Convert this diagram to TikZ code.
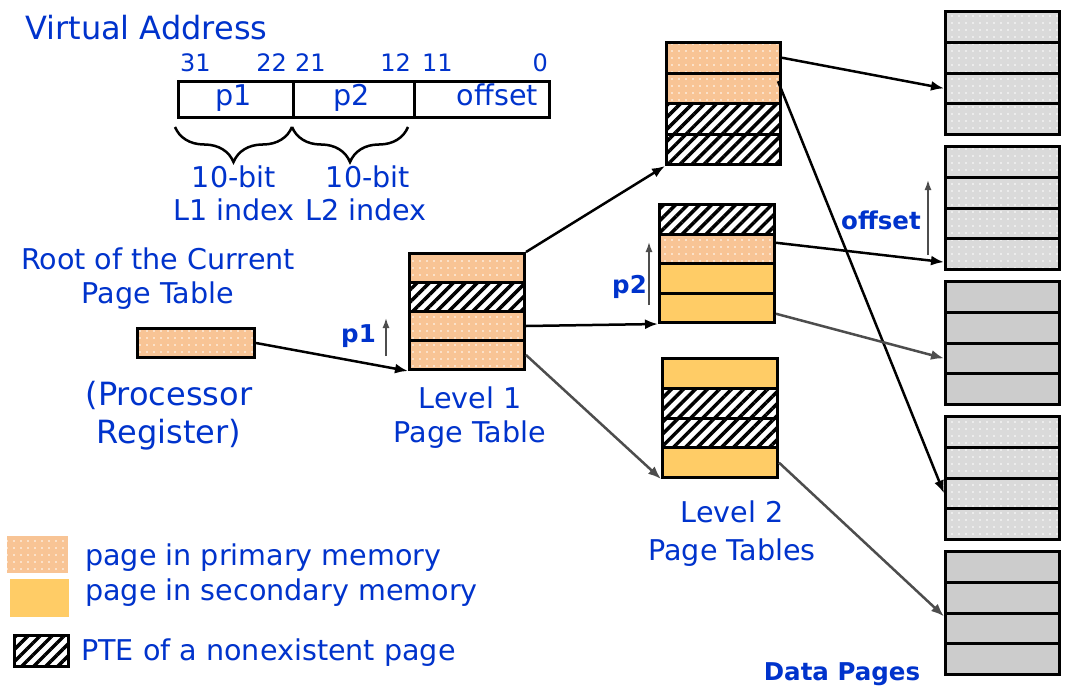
\documentclass[tikz,border=0pt]{standalone}
\usepackage{fontspec}
\setmainfont{DejaVu Sans}
\usetikzlibrary{arrows.meta, patterns.meta, decorations.pathreplacing, positioning}
\definecolor{vblue}{HTML}{0033CC}
\definecolor{pgprim}{HTML}{F8C495}
\definecolor{pgsec}{HTML}{FFCC66}
\definecolor{dgprim}{HTML}{DADADA}
\definecolor{dgsec}{HTML}{CCCCCC}
\definecolor{arrgrey}{HTML}{4D4D4D}

\begin{document}
\begin{tikzpicture}[x=1pt, y=-1pt,
        txt/.style={text=vblue, inner sep=0pt, font=\fontsize{28.6}{34}\selectfont},
        bigtxt/.style={txt, font=\fontsize{32}{38}\selectfont},
        numtxt/.style={txt, font=\fontsize{24}{28}\selectfont},
        boldtxt/.style={txt, font=\bfseries\fontsize{24.5}{29}\selectfont},
        cell/.style={draw, line width=3pt, inner sep=0pt, anchor=north west, minimum width=115pt},
        vacell/.style={draw, line width=2.5pt, inner sep=0pt, anchor=north west, minimum height=36pt},
        prim/.style={preaction={fill=pgprim}, pattern={Dots[radius=0.8pt,distance=7pt]}, pattern color=white},
        sec/.style={fill=pgsec},
        hatch/.style={preaction={fill=white}, pattern={Lines[angle=45,distance=8.5pt,line width=3.5pt]}, pattern color=black},
        dprim/.style={preaction={fill=dgprim}, pattern={Dots[radius=0.8pt,distance=7pt]}, pattern color=white},
        dsec/.style={fill=dgsec},
        brace/.style={decorate, decoration={brace, mirror, amplitude=35pt}, line width=2.5pt},
        conn/.style={-{Latex[length=13pt,width=10pt]}, line width=2.5pt},
        gconn/.style={conn, draw=arrgrey},
        idx/.style={-{Latex[length=10pt,width=7pt]}, line width=1.5pt, draw=arrgrey}]

    \path[use as bounding box, fill=white] (0,0) rectangle (1073,688);

    % virtual address
    \node[bigtxt, anchor=base west] (vatitle) at (25,39) {Virtual Address};
    \node[numtxt, anchor=base west] (b31) at (180,71) {31};
    \node[numtxt, anchor=base east] (b22) at (287,71) {22};
    \node[numtxt, anchor=base west] (b21) at (295,71) {21};
    \node[numtxt, anchor=base east] (b12) at (411,71) {12};
    \node[numtxt, anchor=base west] (b11) at (422,71) {11};
    \node[numtxt, anchor=base east] (b0) at (548,71) {0};

    \node[vacell, minimum width=115pt] (vap1) at (177,80) {};
    \node[vacell, minimum width=121pt] (vap2) at (292,80) {};
    \node[vacell, minimum width=135pt] (vaoff) at (413,80) {};
    \node[txt, anchor=base] at (234,105) {p1};
    \node[txt, anchor=base] at (352,105) {p2};
    \node[txt, anchor=base east] at (538,105) {offset};

    \draw[brace] (175,127) -- (292,127);
    \draw[brace] (292,127) -- (408,127);
    \node[txt, anchor=base] at (234,187) {10-bit};
    \node[txt, anchor=base] at (368,187) {10-bit};
    \node[txt, anchor=base west] at (173,220) {L1 index};
    \node[txt, anchor=base east] at (427,220) {L2 index};

    % root register
    \node[txt, anchor=base] at (158,269) {Root of the Current};
    \node[txt, anchor=base] at (158,303) {Page Table};
    \node[cell, prim, minimum width=117pt, minimum height=29pt] (regbox) at (136,327) {};
    \node[bigtxt, anchor=base] at (169,405) {(Processor};
    \node[bigtxt, anchor=base] at (169,443) {Register)};

    % level 1
    \foreach \k [count=\i] in {prim,hatch,prim,prim}
        \node[cell, \k, minimum height=29pt] (lvl1-\i) at (408,{252+29*(\i-1)}) {};
    \node[txt, anchor=base] at (470,408) {Level 1};
    \node[txt, anchor=base] at (470,442) {Page Table};

    % level 2
    \foreach \k [count=\i] in {prim,prim,hatch,hatch}
        \node[cell, \k, minimum width=114pt, minimum height=30.5pt] (ptA-\i) at (665,{41+30.5*(\i-1)}) {};
    \foreach \k [count=\i] in {hatch,prim,sec,sec}
        \node[cell, \k, minimum height=29.5pt] (ptB-\i) at (658,{203+29.5*(\i-1)}) {};
    \foreach \k [count=\i] in {sec,hatch,hatch,sec}
        \node[cell, \k, minimum height=29.75pt] (ptC-\i) at (661,{357+29.75*(\i-1)}) {};
    \node[txt, anchor=base] at (732,522) {Level 2};
    \node[txt, anchor=base] at (732,560) {Page Tables};

    % data pages
    \foreach \k [count=\s] in {dprim,dprim,dsec,dprim,dsec}
        \foreach \i in {1,...,4}
            \node[cell, \k, minimum width=114pt, minimum height=30.75pt] (pg\s-\i) at (944,{10+135*(\s-1)+30.75*(\i-1)}) {};
    \node[boldtxt, anchor=base] at (842,680) {Data Pages};

    \draw[conn] (regbox.east) -- (lvl1-4.south west);
    \draw[conn] (lvl1-1.north east) -- (ptA-4.south west);
    \draw[conn] (lvl1-3.east) -- (ptB-4.south west);
    \draw[gconn] (lvl1-4.east) -- (ptC-4.south west);
    \draw[conn] (ptA-1.east) -- (pg1-3.west);
    \draw[conn] ([xshift=-4pt,yshift=7pt]ptA-2.east) -- (pg4-3.west);
    \draw[conn] ([yshift=6pt]ptB-2.east) -- ([yshift=-8pt]pg2-4.west);
    \draw[gconn] ([yshift=-6pt]ptB-4.east) -- (pg3-3.west);
    \draw[gconn] (ptC-4.east) -- ([yshift=12pt]pg5-3.west);

    \coordinate (p1lo) at (386,356);
    \coordinate (p1hi) at (386,318);
    \draw[idx] (p1lo) -- (p1hi);
    \node[boldtxt, anchor=base east] (p1lbl) at (376,342) {p1};
    \coordinate (p2lo) at (649,305);
    \coordinate (p2hi) at (649,242);
    \draw[idx] (p2lo) -- (p2hi);
    \node[boldtxt, anchor=base east] (p2lbl) at (647,293) {p2};
    \coordinate (offlo) at (928,255);
    \coordinate (offhi) at (928,180);
    \draw[idx] (offlo) -- (offhi);
    \node[boldtxt, anchor=base east] (offlbl) at (921,229) {offset};

    % legend
    \node[prim, anchor=north west, inner sep=0pt, minimum width=61pt, minimum height=37pt] (keyprim) at (7,536) {};
    \node[sec, anchor=north west, inner sep=0pt, minimum width=59pt, minimum height=38pt] (keysec) at (10,579) {};
    \node[hatch, draw, line width=2.5pt, anchor=north west, inner sep=0pt, minimum width=54pt, minimum height=31pt] (keyhatch) at (13,634) {};
    \node[txt, anchor=base west] at (85,565) {page in primary memory};
    \node[txt, anchor=base west] at (85,600) {page in secondary memory};
    \node[txt, anchor=base west] at (81,660) {PTE of a nonexistent page};

\end{tikzpicture}
\end{document}
